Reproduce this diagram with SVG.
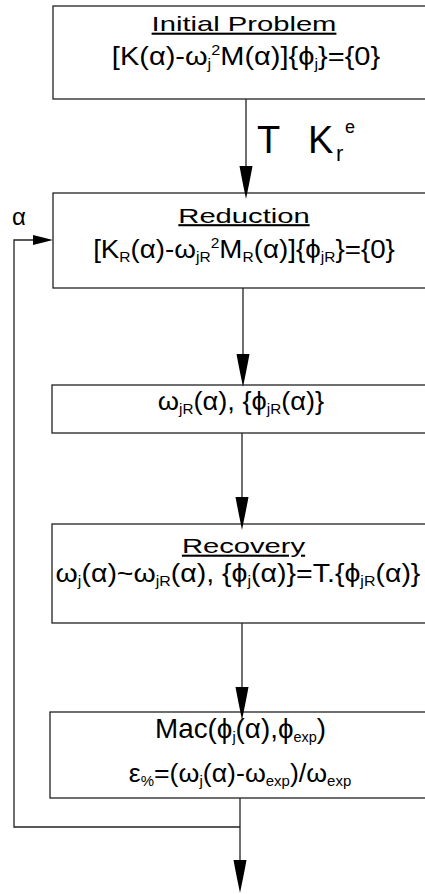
<svg xmlns="http://www.w3.org/2000/svg" width="425" height="894" viewBox="0 0 425 894">
<defs>
<style>
.box{fill:#fff;stroke:#222;stroke-width:1.3}
.ln{fill:none;stroke:#222;stroke-width:1.3}
text{font-family:"Liberation Sans",Arial,sans-serif;fill:#000}
.t{font-size:21px;text-decoration:underline}
.f{font-size:25px}
.s{font-size:14px}
.big{font-size:38px}
</style>
<path id="ad" d="M0,0 C-2,-10 -4.5,-22 -6.5,-33 L6.5,-33 C4.5,-22 2,-10 0,0Z" fill="#000"/>
<path id="ar" d="M0,0 L-20,-5 L-20,5 Z" fill="#000"/>
</defs>
<rect width="425" height="894" fill="#fff"/>

<g id="n1">
<rect class="box" x="53" y="6" width="400" height="93"/>
<text class="t" text-anchor="middle" transform="translate(244,31) scale(1.39,1)">Initial Problem</text>
<text class="f" text-anchor="middle" transform="translate(246,65) scale(1.16,1)">[K(α)-ω<tspan class="s" dy="4">j</tspan><tspan class="s" dy="-14">2</tspan><tspan dy="10">M(α)]{ϕ</tspan><tspan class="s" dy="4">j</tspan><tspan dy="-4">}={0}</tspan></text>
</g>

<g id="n2">
<rect class="box" x="53" y="193" width="400" height="95"/>
<text class="t" text-anchor="middle" transform="translate(244,222.5) scale(1.39,1)">Reduction</text>
<text class="f" text-anchor="middle" transform="translate(244,258) scale(1.11,1)">[K<tspan class="s" dy="4">R</tspan><tspan dy="-4">(α)-ω</tspan><tspan class="s" dy="4">jR</tspan><tspan class="s" dy="-14">2</tspan><tspan dy="10">M</tspan><tspan class="s" dy="4">R</tspan><tspan dy="-4">(α)]{ϕ</tspan><tspan class="s" dy="4">jR</tspan><tspan dy="-4">}={0}</tspan></text>
</g>

<g id="n3">
<rect class="box" x="52" y="385" width="400" height="48"/>
<text class="f" text-anchor="middle" transform="translate(241,410) scale(1.09,1)">ω<tspan class="s" dy="4">jR</tspan><tspan dy="-4">(α), {ϕ</tspan><tspan class="s" dy="4">jR</tspan><tspan dy="-4">(α)}</tspan></text>
</g>

<g id="n4">
<rect class="box" x="52" y="524" width="400" height="99"/>
<text class="t" text-anchor="middle" transform="translate(243.5,553) scale(1.39,1)">Recovery</text>
<text class="f" text-anchor="middle" transform="translate(238,582) scale(1.14,1)">ω<tspan class="s" dy="4">j</tspan><tspan dy="-4">(α)~ω</tspan><tspan class="s" dy="4">jR</tspan><tspan dy="-4">(α), {ϕ</tspan><tspan class="s" dy="4">j</tspan><tspan dy="-4">(α)}=T.{ϕ</tspan><tspan class="s" dy="4">jR</tspan><tspan dy="-4">(α)}</tspan></text>
</g>

<g id="n5">
<rect class="box" x="50" y="712" width="400" height="86"/>
<text class="f" text-anchor="middle" transform="translate(240.5,738) scale(1.03,1)" style="font-size:27px">Mac(ϕ<tspan class="s" dy="4">j</tspan><tspan dy="-4">(α),ϕ</tspan><tspan class="s" dy="4">exp</tspan><tspan dy="-4">)</tspan></text>
<text class="f" text-anchor="middle" transform="translate(240,782) scale(1.07,1)">ε<tspan class="s" dy="4">%</tspan><tspan dy="-4">=(ω</tspan><tspan class="s" dy="4">j</tspan><tspan dy="-4">(α)-ω</tspan><tspan class="s" dy="4">exp</tspan><tspan dy="-4">)/ω</tspan><tspan class="s" dy="4">exp</tspan></text>
</g>

<g id="connectors">
<line class="ln" x1="246" y1="99" x2="246" y2="170"/>
<use href="#ad" x="246" y="199"/>
<line class="ln" x1="243" y1="288" x2="243" y2="360"/>
<use href="#ad" x="243" y="387"/>
<line class="ln" x1="242" y1="433" x2="242" y2="502"/>
<use href="#ad" x="242" y="530"/>
<line class="ln" x1="242" y1="623" x2="242" y2="692"/>
<use href="#ad" x="242" y="720"/>
<line class="ln" x1="240" y1="798" x2="240" y2="866"/>
<use href="#ad" x="240" y="893"/>
<polyline class="ln" points="240,827 14,827 14,240 36,240"/>
<use href="#ar" x="53" y="240"/>
<text class="big" x="257" y="153">T</text>
<text class="big" x="308" y="153">K</text>
<text x="336" y="161" style="font-size:22px">r</text>
<text x="345" y="133" style="font-size:18px">e</text>
<text x="12" y="225" style="font-size:24px">α</text>
</g>
</svg>
